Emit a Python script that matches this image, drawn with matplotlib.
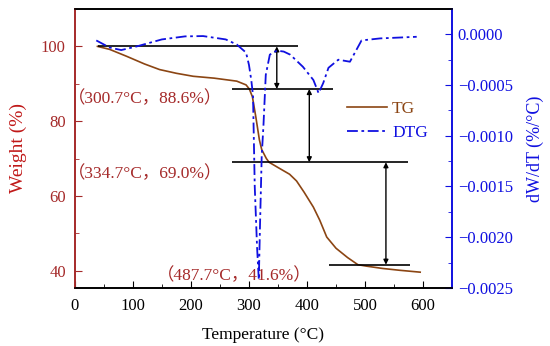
import numpy as np
import matplotlib
matplotlib.use("Agg")
import matplotlib.pyplot as plt
from matplotlib.ticker import MultipleLocator, FuncFormatter

plt.rcParams["font.family"] = ["Liberation Serif", "Noto Sans CJK SC"]
plt.rcParams["mathtext.fontset"] = "stix"

# TG curve (weight %)
tg_t = [39, 60, 90, 120, 146, 175, 204, 240, 279, 295, 300.7, 306, 312, 318, 322, 330,
        334.7, 350, 370, 382, 395, 411, 422, 434, 450, 470, 487.7, 503, 530, 560, 595]
tg_w = [100, 99.2, 97.3, 95.3, 93.8, 92.8, 92.0, 91.5, 90.7, 89.7, 88.6, 86.5, 81, 75, 72.4, 70.0,
        69.0, 67.6, 65.8, 64, 61, 57, 53.5, 49, 46, 43.5, 41.6, 41.2, 40.6, 40.1, 39.6]

# DTG curve (dW/dT)
dtg_t = [37, 60, 80, 106, 150, 190, 221, 260, 279, 295, 300, 304, 307, 310, 314, 317,
         319, 322, 325, 329, 336, 348, 360, 371, 393, 411, 420, 428, 437, 454, 474, 494,
         526, 589]
dtg_v = [-0.00006, -0.00013, -0.000155, -0.00012, -0.00005, -0.00002, -0.000017, -0.00005,
         -0.0001, -0.00018, -0.0003, -0.00045, -0.0006, -0.0015, -0.0021, -0.00242,
         -0.0019, -0.0012, -0.0009, -0.0004, -0.0002, -0.00016, -0.00017, -0.0002,
         -0.00032, -0.00045, -0.00058, -0.00048, -0.00033, -0.00025, -0.00027, -0.00006,
         -0.00004, -0.000024]

# step lines and arrows
step_y = [100, 88.6, 69.0, 41.6]
step_x0 = [40, 270, 270, 438]
step_x1 = [385, 444, 574, 578]
arrow_x = [348, 404, 536]

labels = ["（300.7°C，88.6%）", "（334.7°C，69.0%）", "（487.7°C，41.6%）"]
label_x = [121, 121, 275]
label_y = [86, 66, 38.7]

tg_color = "#8B4513"
red = "#A52A2A"
blue = "#1010E0"

fig = plt.figure(figsize=(5.5, 3.46), dpi=100)
ax = fig.add_axes([0.136, 0.168, 0.686, 0.806])
ax2 = ax.twinx()

l1, = ax.plot(tg_t, tg_w, color=tg_color, lw=1.2, label="TG")
l2, = ax2.plot(dtg_t, dtg_v, color=blue, lw=1.3, ls=(0, (6, 2, 1.5, 2)), label="DTG")

ax.hlines(step_y, step_x0, step_x1, color="black", lw=1.2, zorder=5)
for i, x in enumerate(arrow_x):
    ax.annotate("", xy=(x, step_y[i + 1]), xytext=(x, step_y[i]),
                arrowprops=dict(arrowstyle="<|-|>", color="black", lw=1,
                                mutation_scale=7, shrinkA=0, shrinkB=0), zorder=5)

for s, x, y in zip(labels, label_x, label_y):
    ax.text(x, y, s, color=red, fontsize=12.5, va="center", ha="center")

ax.set_xlim(0, 650)
ax.set_ylim(35.4, 110)
ax2.set_ylim(-0.0025, 0.00025)

ax.xaxis.set_minor_locator(MultipleLocator(50))
ax.set_xticks([0, 100, 200, 300, 400, 500, 600])
ax.yaxis.set_minor_locator(MultipleLocator(10))
ax.set_yticks([40, 60, 80, 100])
ax2.yaxis.set_major_locator(MultipleLocator(0.0005))
ax2.yaxis.set_minor_locator(MultipleLocator(0.00025))
ax2.yaxis.set_major_formatter(FuncFormatter(
    lambda v, p: ("%.4f" % (0 if abs(v) < 1e-9 else v)).replace("-", "\u2212")))

ax.tick_params(axis="x", which="both", direction="in", top=False, labelsize=12,
               colors="black", pad=7)
ax.tick_params(axis="x", which="major", length=5)
ax.tick_params(axis="x", which="minor", length=3)
ax.tick_params(axis="y", which="both", direction="in", labelsize=12, colors=red, pad=6.5)
ax.tick_params(axis="y", which="major", length=5)
ax.tick_params(axis="y", which="minor", length=3)
ax2.tick_params(axis="y", which="both", direction="in", labelsize=12, colors=blue, pad=4)
ax2.tick_params(axis="y", which="major", length=5)
ax2.tick_params(axis="y", which="minor", length=3)

ax2.spines["left"].set_color(red)
ax2.spines["right"].set_color(blue)
ax.spines["left"].set_color(red)
ax.spines["right"].set_color(blue)
for a in (ax, ax2):
    for sp in a.spines.values():
        sp.set_linewidth(1.2)

ax.set_xlabel("Temperature (°C)", fontsize=12.5, labelpad=10)
ax.set_ylabel("Weight (%)", fontsize=14, color="#C01818", labelpad=10)
ax2.set_ylabel("dW/dT (%/°C)", fontsize=13, color=blue, labelpad=10)

leg = ax2.legend(handles=[l1, l2], loc="center left", bbox_to_anchor=(0.68, 0.6),
                 frameon=False, fontsize=12.5, handlelength=2.3, handletextpad=0.3,
                 labelspacing=0.45)
for t, c in zip(leg.get_texts(), [tg_color, blue]):
    t.set_color(c)

fig.savefig("out.png", dpi=100)
